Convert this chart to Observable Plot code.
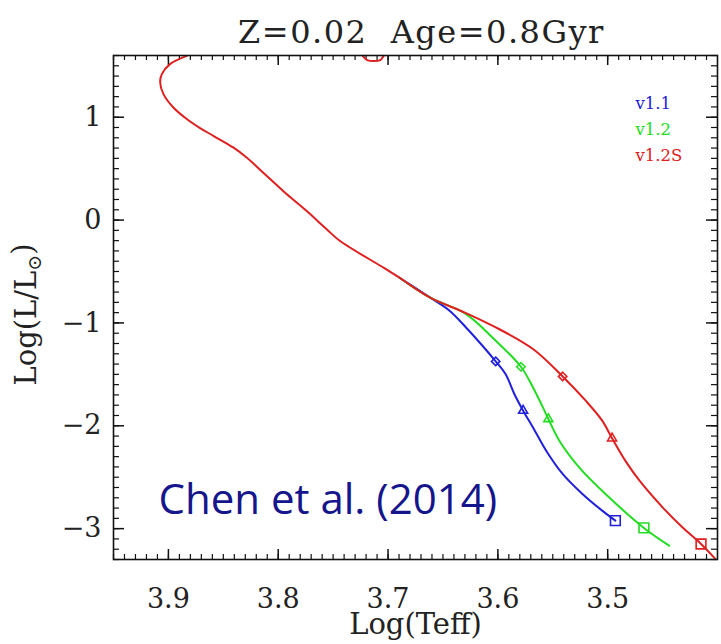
<!DOCTYPE html>
<html>
<head>
<meta charset="utf-8">
<script src="https://cdn.jsdelivr.net/npm/d3@7"></script>
<script src="https://cdn.jsdelivr.net/npm/@observablehq/plot@0.6"></script>
<style>
  html, body { margin: 0; padding: 0; background: #fff; }
  #chart svg { display: block; }
</style>
</head>
<body>
<div id="chart"></div>
<script>
// ---------- data ----------
const titleText = "Z=0.02  Age=0.8Gyr";
const xLabel = "Log(Teff)";
const yLabel = "Log(L/L⊙)";
const noteText = "Chen et al. (2014)";

const seriesNames = ["v1.1", "v1.2", "v1.2S"];
const seriesColors = ["#2020dd", "#22dd22", "#e02020"];

const xTickLabels = [3.9, 3.8, 3.7, 3.6, 3.5];
const yTickLabels = [1, 0, -1, -2, -3];

// v1.1 (blue)
const blueX = [3.690, 3.662, 3.644, 3.629, 3.614, 3.602, 3.593, 3.585, 3.577, 3.568, 3.556, 3.541, 3.523, 3.505, 3.493];
const blueY = [-0.558, -0.752, -0.881, -1.044, -1.222, -1.374, -1.497, -1.691, -1.853, -2.016, -2.242, -2.468, -2.663, -2.825, -2.922];
// v1.2 (green)
const greenX = [3.690, 3.662, 3.629, 3.605, 3.579, 3.568, 3.559, 3.554, 3.544, 3.526, 3.502, 3.467, 3.444];
const greenY = [-0.558, -0.752, -0.914, -1.141, -1.426, -1.627, -1.821, -1.934, -2.145, -2.404, -2.663, -2.993, -3.165];
// v1.2S (red)
const redX = [3.8833, 3.8985, 3.906, 3.9075, 3.9045, 3.8955, 3.8833, 3.8712, 3.8591, 3.8410, 3.8288, 3.8106, 3.7924, 3.7743, 3.7561, 3.7440, 3.703, 3.690, 3.662, 3.629, 3.599, 3.568, 3.541, 3.520, 3.505, 3.496, 3.484, 3.471, 3.450, 3.432, 3.415, 3.402];
const redY = [1.596, 1.516, 1.419, 1.337, 1.224, 1.094, 0.982, 0.894, 0.819, 0.706, 0.608, 0.431, 0.253, 0.090, -0.087, -0.201, -0.470, -0.558, -0.752, -0.904, -1.059, -1.254, -1.520, -1.756, -1.950, -2.122, -2.339, -2.534, -2.793, -2.987, -3.149, -3.294];
// small red loop at the top edge
const redTipX = [3.7231, 3.719, 3.713, 3.707, 3.704];
const redTipY = [1.597, 1.556, 1.546, 1.556, 1.597];

// markers
const markerSeries = ["v1.1", "v1.1", "v1.1", "v1.2", "v1.2", "v1.2", "v1.2S", "v1.2S", "v1.2S"];
const markerType   = ["diamond", "triangle", "square", "diamond", "triangle", "square", "diamond", "triangle", "square"];
const markerX = [3.602, 3.577, 3.493, 3.579, 3.554, 3.467, 3.541, 3.496, 3.415];
const markerY = [-1.374, -1.853, -2.922, -1.426, -1.934, -2.993, -1.520, -2.122, -3.149];

// ---------- build tables ----------
const toRows = (xs, ys, s, seg) => xs.map((x, i) => ({x, y: ys[i], s, seg: seg || s}));
const lineRows = [
  ...toRows(blueX, blueY, "v1.1"),
  ...toRows(greenX, greenY, "v1.2"),
  ...toRows(redX, redY, "v1.2S"),
  ...toRows(redTipX, redTipY, "v1.2S", "v1.2S-tip")
];
const markers = markerX.map((x, i) => ({x, y: markerY[i], s: markerSeries[i], t: markerType[i]}));

const W = 721, H = 644;
const mL = 113, mR = 4, mT = 55, mB = 85;
const pw = W - mL - mR, ph = H - mT - mB;
const xDom = [3.95, 3.40], yDom = [-3.3, 1.6];
// pixel length -> data length (for tick marks drawn inward)
const pxX = p => p * Math.abs(xDom[0] - xDom[1]) / pw;
const pxY = p => p * Math.abs(yDom[1] - yDom[0]) / ph;

const xMinor = d3.range(341, 396).map(v => v / 100);
const yMinor = d3.range(-33, 17).map(v => v / 10);

const serif = "DejaVu Serif";
const symMap = {diamond: {sym: "diamond2", r: 3.8}, triangle: {sym: "triangle2", r: 4.3}, square: {sym: "square2", r: 6.2}};

const marks = [];
// tick marks (inward, all four sides)
const tk = {stroke: "#111"};
marks.push(Plot.ruleX(xMinor, {x: d => d, y1: yDom[0], y2: yDom[0] + pxY(5), ...tk, strokeWidth: 1.2}));
marks.push(Plot.ruleX(xMinor, {x: d => d, y1: yDom[1] - pxY(5), y2: yDom[1], ...tk, strokeWidth: 1.2}));
marks.push(Plot.ruleX(xTickLabels, {x: d => d, y1: yDom[0], y2: yDom[0] + pxY(10), ...tk, strokeWidth: 1.5}));
marks.push(Plot.ruleX(xTickLabels, {x: d => d, y1: yDom[1] - pxY(10), y2: yDom[1], ...tk, strokeWidth: 1.5}));
marks.push(Plot.ruleY(yMinor, {y: d => d, x1: xDom[0], x2: xDom[0] - pxX(6), ...tk, strokeWidth: 1.2}));
marks.push(Plot.ruleY(yMinor, {y: d => d, x1: xDom[1] + pxX(6), x2: xDom[1], ...tk, strokeWidth: 1.2}));
marks.push(Plot.ruleY(yTickLabels, {y: d => d, x1: xDom[0], x2: xDom[0] - pxX(11), ...tk, strokeWidth: 1.5}));
marks.push(Plot.ruleY(yTickLabels, {y: d => d, x1: xDom[1] + pxX(11), x2: xDom[1], ...tk, strokeWidth: 1.5}));

// curves
marks.push(Plot.line(lineRows, {x: "x", y: "y", z: "seg", stroke: "s", strokeWidth: 2, curve: "catmull-rom"}));

// markers
for (const t of Object.keys(symMap)) {
  marks.push(Plot.dot(markers.filter(d => d.t === t), {x: "x", y: "y", stroke: "s", fill: "none", symbol: () => symMap[t].sym, r: symMap[t].r, strokeWidth: 1.6}));
}

marks.push(Plot.frame({stroke: "#111", strokeWidth: 1.6}));

// tick labels
marks.push(Plot.text(xTickLabels, {x: d => d, frameAnchor: "bottom", text: d => d.toFixed(1), dy: 48, lineAnchor: "bottom", textAnchor: "middle", fontSize: 27, fontFamily: serif, fill: "#222"}));
marks.push(Plot.text(yTickLabels, {y: d => d, frameAnchor: "left", text: d => (d < 0 ? "\u2212" : "") + Math.abs(d), dx: -12, textAnchor: "end", lineAnchor: "middle", fontSize: 27, fontFamily: serif, fill: "#222"}));

// axis titles and chart title
marks.push(Plot.text([xLabel], {frameAnchor: "bottom", text: d => d, dy: 74, lineAnchor: "bottom", textAnchor: "middle", fontSize: 29, fontFamily: serif, fill: "#222"}));
marks.push(Plot.text([yLabel], {frameAnchor: "left", text: d => d, dx: -78, dy: 7, rotate: -90, textAnchor: "middle", lineAnchor: "bottom", fontSize: 29, fontFamily: serif, fill: "#222"}));
marks.push(Plot.text([titleText], {frameAnchor: "top", text: d => d, dx: 6, dy: -13, lineAnchor: "bottom", textAnchor: "middle", fontSize: 32, fontFamily: serif, fill: "#222"}));

// legend
seriesNames.forEach((n, i) => {
  marks.push(Plot.text([n], {frameAnchor: "top-left", text: d => d, dx: 522, dy: 53 + i * 26, textAnchor: "start", lineAnchor: "bottom", fontSize: 16.5, fontFamily: serif, fill: seriesColors[i]}));
});

// note
marks.push(Plot.text([noteText], {frameAnchor: "bottom-left", text: d => d, dx: 45, dy: -46, textAnchor: "start", lineAnchor: "bottom", fontSize: 42, fontFamily: "Open Sans", fill: "#15158c"}));

const chart = Plot.plot({
  width: W, height: H,
  marginLeft: mL, marginRight: mR, marginTop: mT, marginBottom: mB,
  style: {background: "#fff", overflow: "visible"},
  x: {domain: xDom, axis: null},
  y: {domain: yDom, axis: null},
  color: {domain: seriesNames, range: seriesColors},
  marks
});

// subscript sun symbol in y label; title letter spacing
d3.select(chart).selectAll("text").each(function() {
  if (this.textContent === yLabel) {
    const t = d3.select(this);
    const tgt = t.select("tspan").empty() ? t : t.select("tspan");
    tgt.text("");
    tgt.append("tspan").text("Log(L/L");
    tgt.append("tspan").attr("font-size", 19).attr("dy", "0.3em").text("⊙");
    tgt.append("tspan").attr("dy", "-0.3em").text(")");
  }
  if (this.textContent === titleText) {
    d3.select(this).attr("letter-spacing", 1.5);
  }
});

document.getElementById("chart").appendChild(chart);
</script>
</body>
</html>
